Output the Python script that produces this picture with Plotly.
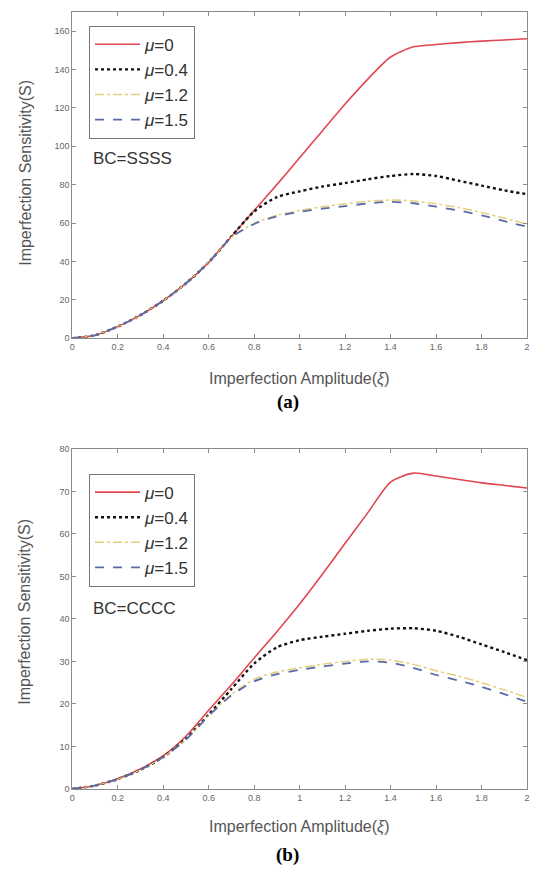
import plotly.graph_objects as go

x_vals = [0, 0.1, 0.2, 0.3, 0.4, 0.5, 0.6, 0.7, 0.8, 0.9, 1.0,
          1.1, 1.2, 1.3, 1.4, 1.5, 1.6, 1.7, 1.8, 1.9, 2.0]

# (a) BC=SSSS
ssss_mu0 = [0, 1.5, 6, 12, 19.5, 28.5, 39.5, 53, 66.5, 80, 94, 108, 122, 135, 146.5, 151.8, 153, 154, 154.8, 155.4, 156]
ssss_mu04 = [0, 1.5, 6, 12, 19.5, 28.5, 39.5, 53, 66, 73.5, 76.5, 79, 80.8, 82.8, 84.5, 85.5, 84.5, 82, 79.5, 77, 75]
ssss_mu12 = [0, 1.5, 6, 12, 19.5, 28.5, 39.5, 52.5, 59.8, 64, 66.5, 68.5, 70, 71.3, 72, 71.5, 70, 68, 65.5, 62.5, 59.5]
ssss_mu15 = [0, 1.5, 6, 12, 19.5, 28.5, 39.5, 52.5, 59.5, 63.5, 65.8, 67.5, 68.8, 70.2, 71, 70.3, 68.5, 66.5, 64, 61, 58]

# (b) BC=CCCC
cccc_mu0 = [0, 0.8, 2.4, 4.7, 7.8, 12.4, 18.5, 24.5, 30.8, 37, 43.5, 50.5, 57.8, 65, 72.2, 74.3, 73.6, 72.8, 72, 71.4, 70.8]
cccc_mu04 = [0, 0.8, 2.3, 4.5, 7.5, 11.8, 17.5, 23.5, 29.5, 33.3, 35, 35.8, 36.5, 37.2, 37.7, 37.8, 37.2, 35.8, 34, 32.2, 30.3]
cccc_mu12 = [0, 0.8, 2.3, 4.5, 7.5, 11.6, 17.2, 22.2, 25.8, 27.5, 28.5, 29.3, 30, 30.5, 30.3, 29.3, 27.8, 26.5, 25, 23.3, 21.5]
cccc_mu15 = [0, 0.8, 2.3, 4.5, 7.5, 11.6, 17.2, 22, 25.3, 27, 28, 28.8, 29.5, 30, 29.7, 28.5, 26.8, 25.5, 24, 22.3, 20.5]

legend_names = ["<i>μ</i>=0", "<i>μ</i>=0.4", "<i>μ</i>=1.2", "<i>μ</i>=1.5"]
x_ticks = [0, 0.2, 0.4, 0.6, 0.8, 1.0, 1.2, 1.4, 1.6, 1.8, 2.0]
x_ticktext = ["0", "0.2", "0.4", "0.6", "0.8", "1", "1.2", "1.4", "1.6", "1.8", "2"]

styles = [
    dict(color="#e0474f", width=1.6, dash="solid"),
    dict(color="#111111", width=2.4, dash="dot"),
    dict(color="#e3cf7c", width=1.5, dash="dashdot"),
    dict(color="#5a6aa8", width=1.8, dash="dash"),
]

fig = go.Figure()
series_a = [ssss_mu0, ssss_mu04, ssss_mu12, ssss_mu15]
series_b = [cccc_mu0, cccc_mu04, cccc_mu12, cccc_mu15]
for i, ys in enumerate(series_a):
    fig.add_trace(go.Scatter(x=x_vals, y=ys, mode="lines", name=legend_names[i],
                             line=dict(shape="spline", smoothing=0.7, **styles[i]),
                             xaxis="x", yaxis="y", legend="legend", legendgroup=f"a{i}"))
for i, ys in enumerate(series_b):
    fig.add_trace(go.Scatter(x=x_vals, y=ys, mode="lines", name=legend_names[i],
                             line=dict(shape="spline", smoothing=0.7, **styles[i]),
                             xaxis="x2", yaxis="y2", legend="legend2", legendgroup=f"b{i}"))

W, H = 534, 874
def px(v):
    return v / W
def py(v):
    return 1 - v / H

axis_common = dict(
    showline=True, linecolor="#8a8a8a", linewidth=1, mirror="ticks",
    ticks="inside", ticklen=4, tickcolor="#8a8a8a", showgrid=False, zeroline=False,
    tickfont=dict(family="Liberation Sans, Arial", size=9, color="#666666"),
)

fig.update_layout(
    width=W, height=H, margin=dict(l=0, r=0, t=0, b=0),
    paper_bgcolor="white", plot_bgcolor="white",
    showlegend=True,
    xaxis=dict(domain=[px(70), px(530)], range=[0, 2], tickvals=x_ticks, ticktext=x_ticktext,
               anchor="y", **axis_common),
    yaxis=dict(domain=[py(337), py(7)], range=[0, 170], tickvals=list(range(0, 161, 20)),
               anchor="x", **axis_common),
    xaxis2=dict(domain=[px(70), px(530)], range=[0, 2], tickvals=x_ticks, ticktext=x_ticktext,
                anchor="y2", **axis_common),
    yaxis2=dict(domain=[py(793), py(449)], range=[0, 80], tickvals=list(range(0, 81, 10)),
                anchor="x2", **axis_common),
    legend=dict(x=px(87), y=py(21), xanchor="left", yanchor="top",
                bgcolor="white", bordercolor="#777777", borderwidth=1,
                font=dict(family="Liberation Sans, Arial", size=17, color="#333333"),
                itemwidth=45, tracegroupgap=5, traceorder="normal"),
    legend2=dict(x=px(87), y=py(474), xanchor="left", yanchor="top",
                 bgcolor="white", bordercolor="#777777", borderwidth=1,
                 font=dict(family="Liberation Sans, Arial", size=17, color="#333333"),
                 itemwidth=45, tracegroupgap=5, traceorder="normal"),
)

title_font = dict(family="Liberation Sans, Arial", size=16, color="#555555")
ann = []
ann.append(dict(x=px(300), y=py(378), xref="paper", yref="paper", text="Imperfection Amplitude(<i>ξ</i>)",
                showarrow=False, font=title_font, xanchor="center", yanchor="middle"))
ann.append(dict(x=px(300), y=py(832), xref="paper", yref="paper", text="Imperfection Amplitude(<i>ξ</i>)",
                showarrow=False, font=title_font, xanchor="center", yanchor="middle"))
ann.append(dict(x=px(22), y=py(170), xref="paper", yref="paper", text="Imperfection Sensitivity(S)",
                showarrow=False, font=title_font, textangle=-90, xanchor="center", yanchor="middle"))
ann.append(dict(x=px(22), y=py(614), xref="paper", yref="paper", text="Imperfection Sensitivity(S)",
                showarrow=False, font=title_font, textangle=-90, xanchor="center", yanchor="middle"))
ann.append(dict(x=px(288), y=py(402), xref="paper", yref="paper", text="<b>(a)</b>",
                showarrow=False, font=dict(family="Liberation Serif, Times New Roman", size=19, color="black"),
                xanchor="center", yanchor="middle"))
ann.append(dict(x=px(288), y=py(860), xref="paper", yref="paper", text="<b>(b)</b>",
                showarrow=False, font=dict(family="Liberation Serif, Times New Roman", size=19, color="black"),
                xanchor="center", yanchor="middle"))
bc_font = dict(family="Liberation Sans, Arial", size=17, color="#333333")
ann.append(dict(x=px(89), y=py(155), xref="paper", yref="paper", text="BC=SSSS",
                showarrow=False, font=bc_font, xanchor="left", yanchor="middle"))
ann.append(dict(x=px(89), y=py(610), xref="paper", yref="paper", text="BC=CCCC",
                showarrow=False, font=bc_font, xanchor="left", yanchor="middle"))
fig.update_layout(annotations=ann)

fig.write_html("out.html")
